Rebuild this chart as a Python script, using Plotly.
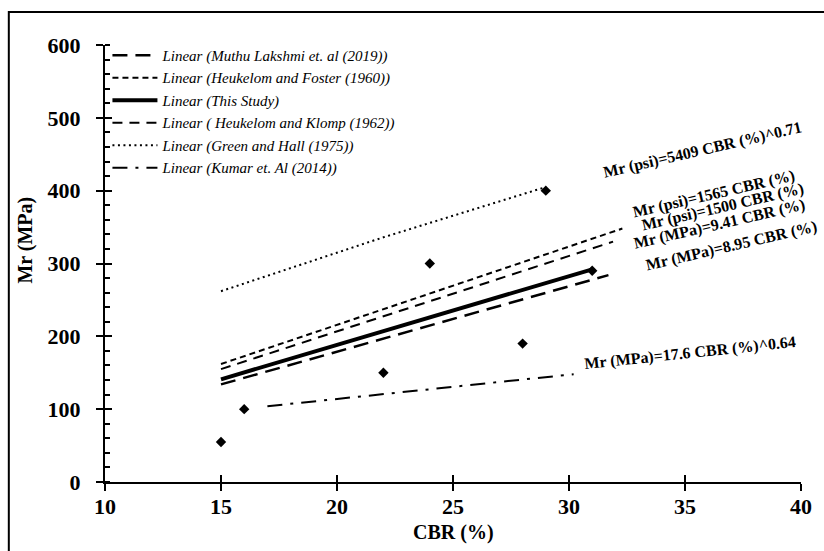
import plotly.graph_objects as go

# Measured points
cbr_points = [15, 16, 22, 24, 28, 29, 31]
mr_points = [55, 100, 150, 300, 190, 400, 290]

# Trend lines (CBR %, Mr MPa)
muthu_cbr = [15, 31.7]
muthu_mr = [134, 284]
foster_cbr = [15, 32.3]
foster_mr = [162, 348]
study_cbr = [15, 31]
study_mr = [141, 292]
klomp_cbr = [15, 31.9]
klomp_mr = [155, 330]
green_cbr = [15, 22, 29]
green_mr = [262, 336, 405]
kumar_cbr = [17, 23, 30.2]
kumar_mr = [104, 124, 148]

# Equation labels: text, x, y, angle
eq_text = [
    "Mr (psi)=5409 CBR (%)^0.71",
    "Mr (psi)=1565 CBR (%)",
    "Mr (psi)=1500 CBR (%)",
    "Mr (MPa)=9.41 CBR (%)",
    "Mr (MPa)=8.95 CBR (%)",
    "Mr (MPa)=17.6 CBR (%)^0.64",
]
eq_x = [35.75, 36.24, 36.62, 36.5, 36.99, 35.2]
eq_y = [456, 396, 377, 354, 324, 177]
eq_angle = [-13, -13, -13, -13, -13, -6]

SERIF = "Liberation Serif, Times New Roman, serif"

fig = go.Figure()

lines = [
    ("Linear (Muthu Lakshmi et. al (2019))", muthu_cbr, muthu_mr, 2.5, "15px,8px"),
    ("Linear (Heukelom and Foster (1960))", foster_cbr, foster_mr, 2, "6px,4px"),
    ("Linear (This Study)", study_cbr, study_mr, 4, "solid"),
    ("Linear ( Heukelom and Klomp (1962))", klomp_cbr, klomp_mr, 2, "10px,7px"),
    ("Linear (Green and Hall (1975))", green_cbr, green_mr, 2, "2px,3.5px"),
    ("Linear (Kumar et. Al (2014))", kumar_cbr, kumar_mr, 2, "15px,8px,3px,8px"),
]
for name, xs, ys, w, dash in lines:
    fig.add_trace(go.Scatter(
        x=xs, y=ys, mode="lines", name=name,
        line=dict(color="black", width=w, dash=dash),
        hoverinfo="skip",
    ))

fig.add_trace(go.Scatter(
    x=cbr_points, y=mr_points, mode="markers", showlegend=False,
    marker=dict(symbol="diamond", size=8, color="black"),
    xaxis="x2", yaxis="y2",
))

for t, x, y, a in zip(eq_text, eq_x, eq_y, eq_angle):
    fig.add_annotation(
        x=x, y=y, xref="x", yref="y", text=t, textangle=a, showarrow=False,
        xanchor="center", yanchor="middle",
        font=dict(family=SERIF, size=16, color="black", weight="bold"),
    )

# Axis titles
fig.add_annotation(
    x=-0.114, y=0.554, xref="paper", yref="paper", text="Mr (MPa)",
    textangle=-90, showarrow=False, xanchor="center", yanchor="middle",
    font=dict(family=SERIF, size=20, color="black", weight="bold"),
)
fig.add_annotation(
    x=0.5, y=-0.1167, xref="paper", yref="paper", text="CBR (%)",
    showarrow=False, xanchor="center", yanchor="middle",
    font=dict(family=SERIF, size=20, color="black", weight="bold"),
)

# Chart frame
fig.add_shape(
    type="rect", xref="paper", yref="paper",
    x0=-0.1382, x1=1.2, y0=-0.4, y1=1.0755,
    line=dict(color="black", width=2), layer="below",
)

tickfont = dict(family=SERIF, size=22, color="black", weight="bold")
fig.update_layout(
    width=824, height=551, autosize=False,
    margin=dict(l=105, r=17, t=45, b=69),
    paper_bgcolor="white", plot_bgcolor="white",
    font=dict(family=SERIF, color="black"),
    showlegend=True,
    legend=dict(
        x=0.0035, y=1.014, xanchor="left", yanchor="top",
        bgcolor="rgba(0,0,0,0)", borderwidth=0, itemwidth=45,
        font=dict(family=SERIF, size=15, color="black", style="italic"),
    ),
    xaxis=dict(
        range=[10, 40], tick0=10, dtick=5, showgrid=False, zeroline=False,
        showline=True, linecolor="black", linewidth=2,
        ticks="outside", ticklen=7, tickwidth=1.5, tickcolor="black",
        tickfont=tickfont, ticklabelstandoff=-3,
    ),
    yaxis=dict(
        range=[0, 600], tick0=0, dtick=100, showgrid=False, zeroline=False,
        showline=True, linecolor="black", linewidth=2,
        ticks="outside", ticklen=7, tickwidth=1.5, tickcolor="black",
        tickfont=tickfont, ticklabelstandoff=11,
        minor=dict(ticks="inside", dtick=20, ticklen=5, tickwidth=1.5,
                   tickcolor="black", showgrid=False),
    ),
    xaxis2=dict(
        overlaying="x", anchor="y2", range=[10, 40], tick0=10, dtick=5,
        showgrid=False, zeroline=False, showline=False, showticklabels=False,
        ticks="inside", ticklen=7, tickwidth=1.5, tickcolor="black",
    ),
    yaxis2=dict(
        overlaying="y", anchor="x2", side="left", range=[0, 600], tick0=0,
        dtick=100, showgrid=False, zeroline=False, showline=False,
        showticklabels=False,
        ticks="inside", ticklen=7, tickwidth=1.5, tickcolor="black",
    ),
)

fig.write_html("out.html")
